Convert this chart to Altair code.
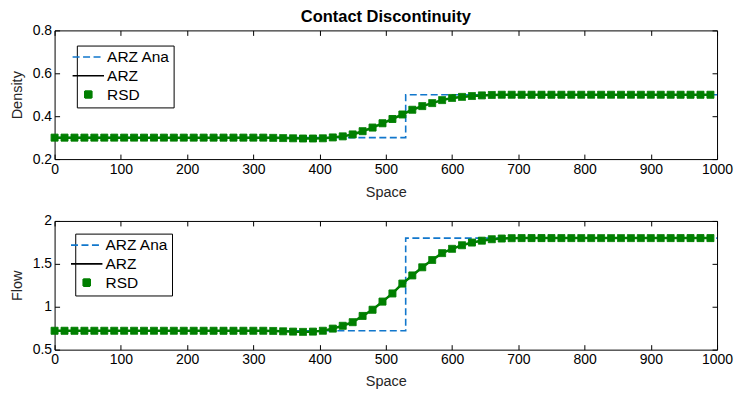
import altair as alt
import pandas as pd

# ---------------- data ----------------
x_grid = list(range(0, 1000, 15))  # numerical sample positions (every 15 units)

density_num = [
    0.3, 0.3, 0.3, 0.3, 0.3, 0.3, 0.3, 0.3, 0.3, 0.3, 0.3,
    0.3, 0.3, 0.3, 0.3, 0.3, 0.3, 0.3, 0.3, 0.3, 0.3, 0.3,
    0.299, 0.298, 0.297, 0.296, 0.296, 0.297, 0.301, 0.306, 0.315, 0.33,
    0.347, 0.367, 0.387, 0.408, 0.43, 0.447, 0.461, 0.475, 0.485, 0.49,
    0.494, 0.497, 0.499,
    0.5, 0.5, 0.5, 0.5, 0.5, 0.5, 0.5, 0.5, 0.5, 0.5, 0.5,
    0.5, 0.5, 0.5, 0.5, 0.5, 0.5, 0.5, 0.5, 0.5, 0.5, 0.5,
]
flow_num = [
    0.72, 0.72, 0.72, 0.72, 0.72, 0.72, 0.72, 0.72, 0.72, 0.72, 0.72,
    0.72, 0.72, 0.72, 0.72, 0.72, 0.72, 0.72, 0.72, 0.72, 0.72, 0.72,
    0.718, 0.714, 0.71, 0.707, 0.71, 0.72, 0.745, 0.778, 0.82, 0.893,
    0.965, 1.06, 1.155, 1.27, 1.365, 1.46, 1.545, 1.625, 1.675, 1.717,
    1.748, 1.77, 1.787, 1.795, 1.799,
    1.8, 1.8, 1.8, 1.8, 1.8, 1.8, 1.8, 1.8, 1.8, 1.8,
    1.8, 1.8, 1.8, 1.8, 1.8, 1.8, 1.8, 1.8, 1.8, 1.8,
]
ana_x = [0, 530, 530, 1000]
density_ana = [0.3, 0.3, 0.5, 0.5]
flow_ana = [0.72, 0.72, 1.8, 1.8]

series_names = ["ARZ Ana", "ARZ", "RSD"]
x_ticks = [0, 100, 200, 300, 400, 500, 600, 700, 800, 900, 1000]
density_ticks = [0.2, 0.4, 0.6, 0.8]
flow_ticks = [0.5, 1, 1.5, 2]

# ---------------- styling ----------------
BLUE = "#1177cc"
GREEN = "#007f00"
FONT = "Liberation Sans"
W = 664
DASH = [7, 3.5]

# legend glyphs (unit = half the symbol size); the leading move widens the frame on the left
DASH_PATH = "M-2.79,0M-2.25,0H2.25"
SOLID_PATH = "M-2.79,0M-2.25,0H2.25"
SQUARE_PATH = "M-0.5,-0.5H0.5V0.5H-0.5Z"


def panel(num, ana, ylabel, ydomain, yticks, yformat, height, leg_x, leg_y,
          space_pad, title=None):
    num_df = pd.DataFrame({"x": x_grid, "y": num})
    ana_df = pd.DataFrame({"x": ana_x, "y": ana, "i": list(range(len(ana_x)))})
    rsd_df = num_df.assign(series="RSD")

    xs = alt.Scale(domain=[0, 1000], nice=False, zero=False)
    ys = alt.Scale(domain=ydomain, nice=False, zero=False)
    common = dict(domain=False, grid=False, ticks=True, tickSize=5, offset=-5,
                  tickColor="black", tickWidth=1)

    x_bottom = alt.Axis(values=x_ticks, format="d", title="Space", labelPadding=3,
                        titlePadding=space_pad, labelFlush=False, **common)
    y_left = alt.Axis(values=yticks, format=yformat, title=ylabel, labelPadding=3,
                      titlePadding=8, **common)
    x_top = alt.Axis(orient="top", values=x_ticks, labels=False, title=None,
                     minExtent=0, maxExtent=0, **common)
    y_right = alt.Axis(orient="right", values=yticks, labels=False, title=None,
                       minExtent=0, maxExtent=0, **common)

    ana_layer = alt.Chart(ana_df).mark_line(
        color=BLUE, strokeDash=DASH, strokeWidth=1.6
    ).encode(
        x=alt.X("x:Q", scale=xs, axis=x_bottom),
        y=alt.Y("y:Q", scale=ys, axis=y_left),
        order="i:Q",
    )
    arz_layer = alt.Chart(num_df).mark_line(color="black", strokeWidth=1.2).encode(
        x=alt.X("x:Q", scale=xs, axis=x_top),
        y=alt.Y("y:Q", scale=ys, axis=y_right),
    )
    rsd_line = alt.Chart(num_df).mark_line(color=GREEN, strokeWidth=2.5).encode(
        x=alt.X("x:Q", scale=xs, axis=None),
        y=alt.Y("y:Q", scale=ys, axis=None),
    )
    leg = alt.Legend(
        title=None, orient="none", legendX=leg_x, legendY=leg_y,
        padding=3.5, strokeColor="black", fillColor="white", cornerRadius=0,
        labelFont=FONT, labelFontSize=15.5, labelColor="black",
        labelExpr="datum.label + ' '",
        labelOffset=10.8, rowPadding=1.8, symbolSize=196, symbolStrokeWidth=1.6,
    )
    rsd_pts = alt.Chart(rsd_df).mark_point(
        filled=True, size=196, strokeWidth=1, opacity=1
    ).encode(
        x=alt.X("x:Q", scale=xs, axis=None),
        y=alt.Y("y:Q", scale=ys, axis=None),
        shape=alt.Shape("series:N", scale=alt.Scale(
            domain=series_names, range=[DASH_PATH, SOLID_PATH, SQUARE_PATH]), legend=leg),
        fill=alt.Fill("series:N", scale=alt.Scale(
            domain=series_names, range=["transparent", "transparent", GREEN]), legend=leg),
        stroke=alt.Stroke("series:N", scale=alt.Scale(
            domain=series_names, range=[BLUE, "black", GREEN]), legend=leg),
        strokeDash=alt.StrokeDash("series:N", scale=alt.Scale(
            domain=series_names, range=[DASH, [1, 0], [1, 0]]), legend=leg),
    )
    props = dict(width=W, height=height)
    if title is not None:
        props["title"] = alt.TitleParams(
            title, font=FONT, fontSize=16.5, fontWeight="bold", color="black",
            anchor="middle", frame="group", offset=-2,
        )
    return alt.layer(ana_layer, arz_layer, rsd_line, rsd_pts).resolve_axis(
        x="independent", y="independent"
    ).properties(**props)


top = panel(density_num, density_ana, "Density", [0.2, 0.8], density_ticks, ".1f", 129,
            22.3, 15.2, 9.5, title="Contact Discontinuity")
bottom = panel(flow_num, flow_ana, "Flow", [0.5, 2], flow_ticks, "~g", 129,
               20.7, 12.7, 7.5)

chart = alt.vconcat(top, bottom, spacing=13).resolve_legend(
    shape="independent", fill="independent", stroke="independent",
    strokeDash="independent",
).properties(
    padding={"left": 0.7, "top": 0, "right": 0, "bottom": 0}
).configure_view(stroke="black", strokeWidth=1).configure_axis(
    labelFont=FONT, labelFontSize=14, labelColor="black",
    titleFont=FONT, titleFontSize=14.5, titleFontWeight="normal", titleColor="#262626",
)

chart.save("out.html", embed_options={"renderer": "svg", "actions": False})
